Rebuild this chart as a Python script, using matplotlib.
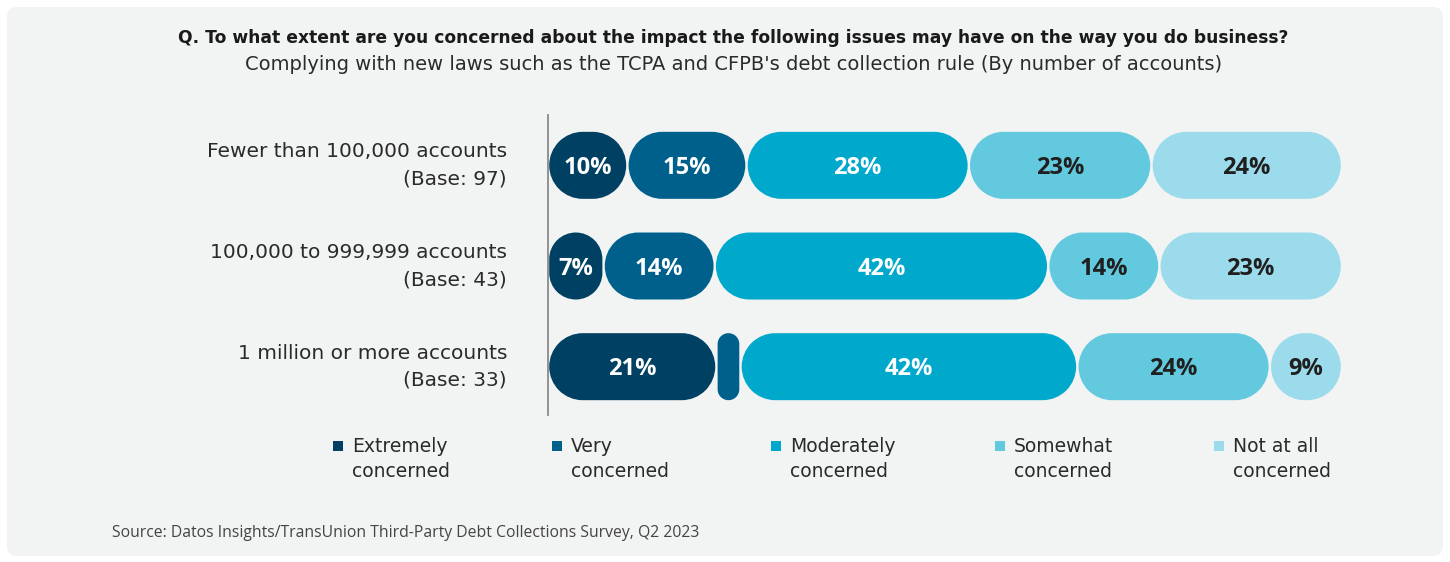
import matplotlib.pyplot as plt
from matplotlib.patches import FancyBboxPatch, PathPatch, Rectangle
from matplotlib.path import Path
import numpy as np

plt.rcParams['font.family'] = ['DejaVu Sans']

# survey data
groups = ['Fewer than 100,000 accounts\n(Base: 97)',
          '100,000 to 999,999 accounts\n(Base: 43)',
          '1 million or more accounts\n(Base: 33)']
levels = ['Extremely\nconcerned', 'Very\nconcerned', 'Moderately\nconcerned',
          'Somewhat\nconcerned', 'Not at all\nconcerned']
extremely = [10, 7, 21]
very = [15, 14, 3]
moderately = [28, 42, 42]
somewhat = [23, 14, 24]
not_at_all = [24, 23, 9]

colors = ['#004062', '#00608C', '#00A8CC', '#63C9DE', '#9CDBEB']
label_colors = ['white', 'white', 'white', '#1f1f1f', '#1f1f1f']
text_color = '#2a2a2a'
value_font = ['Open Sans', 'DejaVu Sans']


def rounded_box(x, yc, w, h, rx, ry):
    # closed path of a box with elliptical corners (circular on screen)
    verts, codes = [], []
    corners = [(x + w - rx, yc + h / 2 - ry, 0, 90),
               (x + rx, yc + h / 2 - ry, 90, 180),
               (x + rx, yc - h / 2 + ry, 180, 270),
               (x + w - rx, yc - h / 2 + ry, 270, 360)]
    for cx, cy, t1, t2 in corners:
        arc = Path.arc(t1, t2)
        v = arc.vertices * [rx, ry] + [cx, cy]
        c = list(arc.codes)
        if verts:
            c[0] = Path.LINETO
        verts.extend(v.tolist())
        codes.extend(c)
    verts.append(verts[0])
    codes.append(Path.CLOSEPOLY)
    return Path(verts, codes)


W, H = 1450, 562
fig = plt.figure(figsize=(W / 100, H / 100), dpi=100)
fig.patch.set_facecolor('white')

# light grey rounded panel behind everything, pixel coordinates
bg = fig.add_axes([0, 0, 1, 1])
bg.set_xlim(0, W)
bg.set_ylim(H, 0)
bg.axis('off')
bg.add_patch(FancyBboxPatch((7, 7), W - 14, H - 13,
                            boxstyle='round,pad=0,rounding_size=10',
                            fc='#F2F3F3', ec='none'))

# bar axes (pixel box 548..1342 x 115..415)
x0, x1, y0, y1 = 548, 1342, 115, 415
ytop, ybot = -0.5, 2.48
ax = fig.add_axes([x0 / W, 1 - y1 / H, (x1 - x0) / W, (y1 - y0) / H])
ax.set_facecolor('none')
ax.set_xlim(0, 100)
ax.set_ylim(ybot, ytop)
for s in ['top', 'right', 'bottom']:
    ax.spines[s].set_visible(False)
ax.spines['left'].set_color('#8a8a8a')
ax.spines['left'].set_linewidth(1.3)
ax.set_xticks([])
ax.set_yticks([])

xpp = 100 / (x1 - x0)           # x data units per pixel
ypp = (ybot - ytop) / (y1 - y0)  # y data units per pixel
bar_px = 67
bar_h = bar_px * ypp
gap = 1.2 * xpp

series = np.array([extremely, very, moderately, somewhat, not_at_all], dtype=float)
for i in range(len(groups)):
    vals = series[:, i]
    scale = 100 / vals.sum()
    left = 0.0
    for j, v in enumerate(vals):
        w = v * scale
        seg_w = w - 2 * gap
        r_px = min(seg_w / xpp, bar_px) / 2
        path = rounded_box(left + gap, i, seg_w, bar_h, r_px * xpp, r_px * ypp)
        ax.add_patch(PathPatch(path, fc=colors[j], ec='none'))
        if v >= 5:
            ax.text(left + w / 2, i + 8.5 * ypp, f'{int(v)}%', ha='center',
                    va='baseline', fontsize=17, fontweight='bold',
                    family=value_font, color=label_colors[j])
        left += w

    line1, line2 = groups[i].split('\n')
    ax.text(-41 * xpp, i - 8 * ypp, line1, ha='right', va='baseline',
            fontsize=14.5, color=text_color)
    ax.text(-41 * xpp, i + 19 * ypp, line2, ha='right', va='baseline',
            fontsize=14.5, color=text_color)

# titles
bg.text(733, 43,
        'Q. To what extent are you concerned about the impact the following issues may have on the way you do business?',
        ha='center', va='baseline', fontsize=12.3, fontweight='bold', color='#1a1a1a')
bg.text(734, 70,
        "Complying with new laws such as the TCPA and CFPB's debt collection rule (By number of accounts)",
        ha='center', va='baseline', fontsize=14, color=text_color)

# legend
leg_x = [333, 552, 771, 995, 1214]
for lx, lab, c in zip(leg_x, levels, colors):
    bg.add_patch(Rectangle((lx, 441), 10, 10, fc=c, ec='none'))
    l1, l2 = lab.split('\n')
    bg.text(lx + 19, 452, l1, ha='left', va='baseline', fontsize=13.5, color=text_color)
    bg.text(lx + 19, 477, l2, ha='left', va='baseline', fontsize=13.5, color=text_color)

bg.text(112, 537,
        'Source: Datos Insights/TransUnion Third-Party Debt Collections Survey, Q2 2023',
        ha='left', va='baseline', fontsize=11.3, family=value_font, color='#444444')

fig.savefig('out.png', dpi=100, facecolor='white')
